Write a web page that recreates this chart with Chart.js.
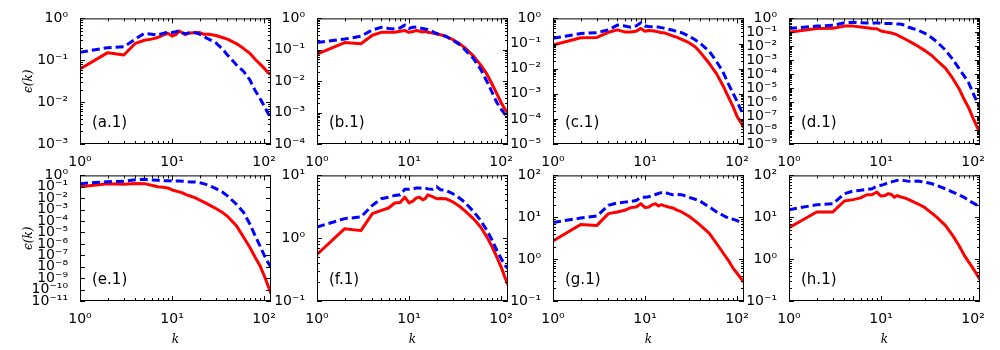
<!DOCTYPE html>
<html>
<head>
<meta charset="utf-8">
<script src="https://cdn.jsdelivr.net/npm/chart.js@4.4.0/dist/chart.umd.min.js"></script>
<style>
  body { margin: 0; background: #fff; }
  #wrap { position: relative; width: 1000px; height: 350px; overflow: hidden; }
  canvas { position: absolute; }
</style>
</head>
<body>
<div id="wrap"></div>
<script>
// wavenumbers shared by every panel
const kValues = [1, 2, 3, 4, 5, 6, 7, 8, 9, 10, 11, 12, 13, 14, 15, 16, 18, 20, 22, 25, 30, 35, 40, 50, 60, 70, 80, 90, 100, 110, 119];

// red solid / blue dashed series, one pair per panel
const redA = [0.062, 0.152, 0.134, 0.254, 0.30, 0.32, 0.35, 0.40, 0.44, 0.38, 0.41, 0.50, 0.45, 0.41, 0.45, 0.45, 0.46, 0.46, 0.42, 0.42, 0.39, 0.35, 0.32, 0.25, 0.19, 0.147, 0.106, 0.082, 0.065, 0.051, 0.046];
const blueA = [0.155, 0.20, 0.21, 0.32, 0.44, 0.42, 0.40, 0.44, 0.47, 0.46, 0.48, 0.51, 0.45, 0.43, 0.44, 0.47, 0.45, 0.42, 0.37, 0.32, 0.26, 0.19, 0.134, 0.078, 0.054, 0.034, 0.019, 0.0125, 0.0082, 0.0055, 0.0042];
const redB = [0.073, 0.17, 0.155, 0.29, 0.36, 0.36, 0.36, 0.39, 0.41, 0.36, 0.38, 0.41, 0.39, 0.37, 0.39, 0.36, 0.34, 0.32, 0.30, 0.27, 0.21, 0.16, 0.119, 0.064, 0.033, 0.017, 0.008, 0.004, 0.0021, 0.0013, 0.001];
const blueB = [0.17, 0.22, 0.27, 0.43, 0.52, 0.48, 0.46, 0.50, 0.61, 0.48, 0.52, 0.53, 0.50, 0.48, 0.46, 0.44, 0.38, 0.33, 0.30, 0.27, 0.20, 0.15, 0.105, 0.053, 0.024, 0.010, 0.0044, 0.0021, 0.0013, 0.0009, 0.0007];
const redC = [0.087, 0.17, 0.175, 0.28, 0.35, 0.29, 0.29, 0.31, 0.40, 0.31, 0.33, 0.32, 0.31, 0.29, 0.27, 0.27, 0.23, 0.20, 0.18, 0.147, 0.108, 0.075, 0.044, 0.016, 0.0062, 0.0022, 0.00078, 0.00032, 0.000126, 0.000072, 0.000043];
const blueC = [0.16, 0.25, 0.27, 0.35, 0.54, 0.50, 0.45, 0.50, 0.67, 0.50, 0.48, 0.47, 0.46, 0.45, 0.43, 0.41, 0.37, 0.34, 0.30, 0.27, 0.20, 0.14, 0.10, 0.048, 0.019, 0.0076, 0.0026, 0.0011, 0.0005, 0.00023, 0.000145];
const redD = [0.10, 0.19, 0.20, 0.28, 0.28, 0.24, 0.21, 0.19, 0.18, 0.124, 0.11, 0.10, 0.09, 0.078, 0.065, 0.052, 0.035, 0.024, 0.017, 0.0105, 0.0049, 0.0024, 0.00105, 0.00027, 0.000052, 0.00001, 0.0000016, 3.7e-7, 7.2e-8, 1.8e-8, 6.1e-9];
const blueD = [0.19, 0.28, 0.32, 0.49, 0.52, 0.49, 0.47, 0.44, 0.49, 0.44, 0.44, 0.44, 0.43, 0.41, 0.39, 0.39, 0.33, 0.23, 0.19, 0.147, 0.085, 0.044, 0.022, 0.0055, 0.0012, 0.00027, 0.000076, 0.000023, 0.0000044, 0.0000011, 3.7e-7];
const redE = [0.10, 0.19, 0.165, 0.20, 0.19, 0.135, 0.10, 0.09, 0.08, 0.053, 0.043, 0.036, 0.029, 0.022, 0.018, 0.015, 0.0107, 0.0067, 0.0048, 0.0028, 0.00126, 0.0006, 0.00026, 0.00004, 0.0000038, 5.1e-7, 6.9e-8, 1.3e-8, 1.8e-9, 2.4e-10, 4.5e-11];
const blueE = [0.19, 0.28, 0.30, 0.42, 0.45, 0.39, 0.37, 0.34, 0.34, 0.32, 0.32, 0.32, 0.31, 0.30, 0.28, 0.27, 0.27, 0.23, 0.19, 0.135, 0.069, 0.036, 0.016, 0.003, 0.00057, 0.000055, 0.0000053, 7.2e-7, 1.1e-7, 2.5e-8, 9.3e-9];
const redF = [0.55, 1.42, 1.32, 2.46, 2.78, 3.03, 3.64, 3.7, 4.5, 3.64, 3.9, 4.37, 4.5, 4.1, 4.25, 4.9, 4.6, 4.25, 4.3, 4.25, 3.78, 3.26, 2.78, 2.05, 1.51, 1.05, 0.73, 0.5, 0.35, 0.24, 0.18];
const blueF = [1.51, 2.05, 2.18, 3.34, 4.26, 4.5, 4.8, 4.9, 6.0, 6.0, 6.1, 6.3, 6.3, 6.2, 6.3, 6.1, 6.0, 6.6, 5.9, 5.8, 5.1, 4.4, 3.77, 2.68, 1.93, 1.34, 0.93, 0.64, 0.48, 0.37, 0.33];
const redG = [2.7, 6.7, 6.4, 12.2, 13.4, 14.7, 17, 17.6, 21.1, 17, 17.6, 20, 21, 18.6, 20, 19, 17.6, 16.7, 15, 13.4, 10.6, 8.2, 6.4, 4.1, 2.36, 1.44, 0.95, 0.62, 0.46, 0.35, 0.28];
const blueG = [7.5, 9.6, 10.7, 19.3, 22, 23, 24, 25, 30, 30, 31, 33, 35, 37, 38.7, 40, 36.6, 34.6, 35, 34.6, 30, 27, 24, 17.6, 13.4, 11.2, 9.6, 9.0, 8.3, 7.4, 6.7];
const redH = [5.6, 13.4, 13.4, 24.5, 26.4, 29, 34.5, 34.5, 40, 32, 33, 36.6, 35, 30, 33, 31, 29, 26.4, 24, 21, 17, 12.9, 10.2, 6.4, 3.7, 2.15, 1.25, 0.85, 0.6, 0.43, 0.32];
const blueH = [15.2, 20, 21, 36.6, 42.5, 44, 46, 48, 55.7, 58, 62, 67, 70, 73, 76, 78, 75, 72, 72, 73, 69, 64, 58, 48, 40, 34.5, 30, 25, 22, 19.5, 17.6];

const redSeries = [redA, redB, redC, redD, redE, redF, redG, redH];
const blueSeries = [blueA, blueB, blueC, blueD, blueE, blueF, blueG, blueH];
const panelLabels = ["(a.1)", "(b.1)", "(c.1)", "(d.1)", "(e.1)", "(f.1)", "(g.1)", "(h.1)"];

// axis ranges (decades)
const xMin = 1, xMax = 119;
const yMinExp = [-3, -4, -5, -9, -11, -1, -1, -1];
const yMaxExp = [0, 0, 0, 0, 0, 1, 2, 2];

// layout
const lefts = [80, 317, 553, 789];
const tops = [18, 175];
const W = 191, H = 126;
const PAD_L = 80, PAD_T = 12, PAD_R = 12, X_AX = 48;

const SUP = { "0": "⁰", "1": "¹", "2": "²", "3": "³", "4": "⁴", "5": "⁵", "6": "⁶", "7": "⁷", "8": "⁸", "9": "⁹", "-": "⁻" };
const powLabel = (v) => "10" + String(Math.round(Math.log10(v))).split("").map(c => SUP[c]).join("");
const decades = (lo, hi) => { const a = []; for (let e = lo; e <= hi; e++) a.push(Math.pow(10, e)); return a; };

// frame, inward ticks and panel tag
const framePlugin = {
  id: "frame",
  afterDraw(chart, args, opts) {
    const { ctx, chartArea: a, scales } = chart;
    ctx.save();
    ctx.strokeStyle = "#000";
    ctx.lineWidth = 1;
    ctx.beginPath();
    const tick = (x1, y1, x2, y2) => { ctx.moveTo(x1, y1); ctx.lineTo(x2, y2); };
    // x ticks
    for (let e = 0; e <= 2; e++) {
      for (let m = 1; m <= 9; m++) {
        const v = m * Math.pow(10, e);
        if (v < xMin || v > xMax) continue;
        const px = Math.round(scales.x.getPixelForValue(v)) + 0.5;
        const len = m === 1 ? 5 : 3;
        tick(px, a.bottom, px, a.bottom - len);
        tick(px, a.top, px, a.top + len);
      }
    }
    // y ticks
    const lo = opts.lo, hi = opts.hi;
    const minors = hi - lo <= 10;
    for (let e = lo; e <= hi; e++) {
      for (let m = 1; m <= 9; m++) {
        if (m > 1 && !minors) continue;
        const v = m * Math.pow(10, e);
        if (v < Math.pow(10, lo) * 0.999 || v > Math.pow(10, hi) * 1.001) continue;
        const py = Math.round(scales.y.getPixelForValue(v)) + 0.5;
        const len = m === 1 ? 5 : 3;
        tick(a.left, py, a.left + len, py);
        tick(a.right, py, a.right - len, py);
      }
    }
    ctx.stroke();
    ctx.strokeRect(a.left + 0.5, a.top + 0.5, a.right - a.left - 1, a.bottom - a.top - 1);
    ctx.fillStyle = "#000";
    ctx.font = "15px 'DejaVu Sans'";
    ctx.textAlign = "left";
    ctx.textBaseline = "middle";
    ctx.fillText(opts.tag, a.left + 12, a.bottom - 21);
    ctx.restore();
  }
};

const wrap = document.getElementById("wrap");
const tickFont = { family: "DejaVu Sans", size: 14 };
const titleFont = { family: "DejaVu Serif", size: 12, style: "italic" };

for (let i = 0; i < 8; i++) {
  const row = Math.floor(i / 4), col = i % 4;
  const cv = document.createElement("canvas");
  cv.width = PAD_L + W + PAD_R;
  cv.height = PAD_T + H + X_AX;
  cv.style.left = (lefts[col] - PAD_L) + "px";
  cv.style.top = (tops[row] - PAD_T) + "px";
  cv.style.width = cv.width + "px";
  cv.style.height = cv.height + "px";
  wrap.appendChild(cv);

  const lo = yMinExp[i], hi = yMaxExp[i];
  new Chart(cv, {
    type: "line",
    plugins: [framePlugin],
    data: {
      datasets: [
        {
          data: kValues.map((k, j) => ({ x: k, y: blueSeries[i][j] })),
          borderColor: "#0000ff",
          borderWidth: 3,
          borderDash: [8, 4],
          pointRadius: 0,
          tension: 0,
        },
        {
          data: kValues.map((k, j) => ({ x: k, y: redSeries[i][j] })),
          borderColor: "#ff0000",
          borderWidth: 3,
          borderJoinStyle: "round",
          pointRadius: 0,
          tension: 0,
        },
      ],
    },
    options: {
      responsive: false,
      animation: false,
      events: [],
      layout: { padding: { top: PAD_T, right: PAD_R, left: 0, bottom: 0 } },
      plugins: {
        legend: { display: false },
        tooltip: { enabled: false },
        frame: { lo: lo, hi: hi, tag: panelLabels[i] },
      },
      scales: {
        x: {
          type: "logarithmic",
          min: xMin,
          max: xMax,
          afterBuildTicks: (s) => { s.ticks = decades(0, 2).map(v => ({ value: v })); },
          afterFit: (s) => { s.height = X_AX; },
          grid: { display: false },
          border: { display: false },
          ticks: { autoSkip: false, maxRotation: 0, padding: 2, color: "#000", font: tickFont, callback: (v) => powLabel(v) },
          title: { display: row === 1, text: "k", color: "#000", font: titleFont, padding: { top: 0, bottom: 2 } },
        },
        y: {
          type: "logarithmic",
          min: Math.pow(10, lo),
          max: Math.pow(10, hi),
          afterBuildTicks: (s) => { s.ticks = decades(lo, hi).map(v => ({ value: v })); },
          afterFit: (s) => { s.width = PAD_L; },
          grid: { display: false },
          border: { display: false },
          ticks: { autoSkip: false, padding: 4, color: "#000", font: tickFont, callback: (v) => powLabel(v) },
          title: { display: col === 0, text: "ϵ(k)", color: "#000", font: titleFont, padding: { top: 22, bottom: 0 } },
        },
      },
    },
  });
}
</script>
</body>
</html>
